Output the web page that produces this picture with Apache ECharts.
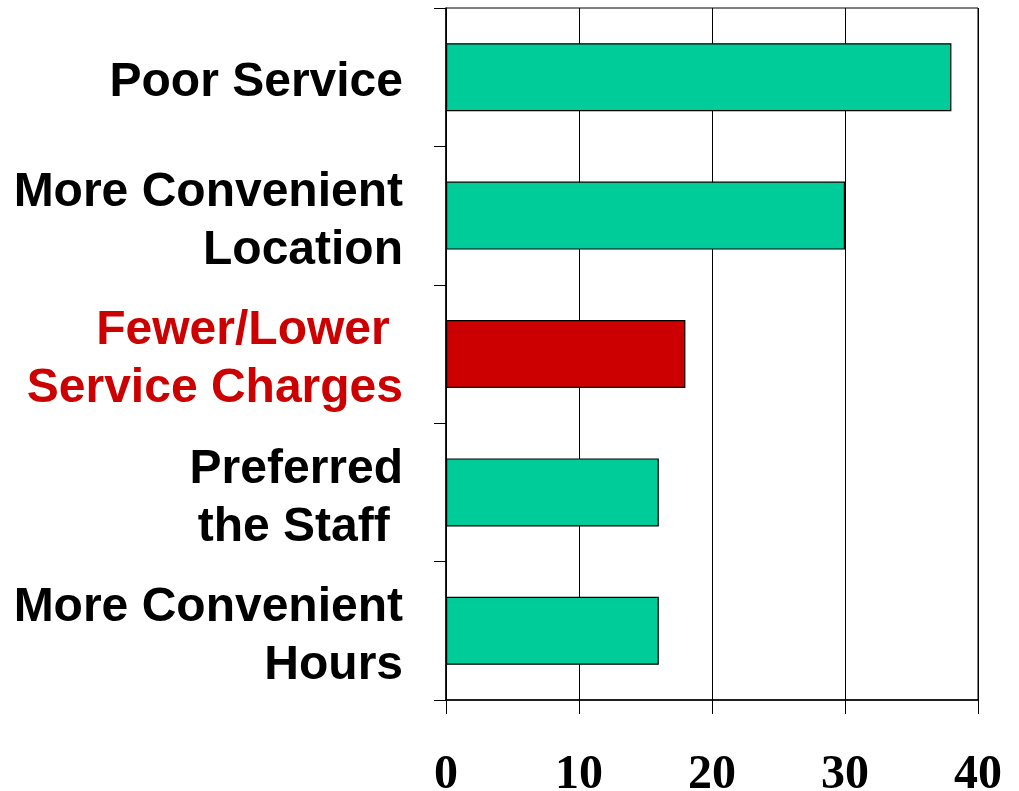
<!DOCTYPE html>
<html>
<head>
<meta charset="utf-8">
<script src="https://cdn.jsdelivr.net/npm/echarts@6/dist/echarts.min.js"></script>
<style>
  html, body { margin: 0; padding: 0; background: #fff; overflow: hidden; }
  #chart { width: 1019px; height: 791px; }
</style>
</head>
<body>
<div id="chart"></div>
<script>
const categories = ['Poor Service', 'More Convenient\nLocation', 'Fewer/Lower \nService Charges', 'Preferred\nthe Staff ', 'More Convenient\nHours']
const values = [38, 30, 18, 16, 16]
const highlighted = 'Fewer/Lower \nService Charges'
const xTicks = [0, 10, 20, 30, 40]

const myChart = echarts.init(document.getElementById('chart'))

const data = values.map((v, i) => ({
    value: v,
    itemStyle: { color: categories[i] === highlighted ? '#CC0000' : '#00CC99' }
}))

const labelFont = { fontFamily: 'Liberation Sans', fontWeight: 'bold', fontSize: 48, lineHeight: 58, align: 'right' }

const option = {
    animation: false,
    grid: {
        left: 446,
        right: 41,
        top: 8,
        bottom: 91,
        outerBoundsMode: 'none',
        containLabel: false,
        show: true,
        borderColor: '#000',
        borderWidth: 1
    },
    xAxis: {
        type: 'value',
        min: xTicks[0],
        max: xTicks[xTicks.length - 1],
        interval: 10,
        axisLine: { show: true, lineStyle: { color: '#000', width: 1.5 } },
        axisTick: { show: true, length: 14, lineStyle: { color: '#000' } },
        splitLine: { show: true, lineStyle: { color: '#000', width: 1 } },
        axisLabel: {
            margin: 52,
            color: '#000',
            fontFamily: 'Liberation Serif',
            fontWeight: 'bold',
            fontSize: 48
        }
    },
    yAxis: {
        type: 'category',
        inverse: true,
        data: categories,
        axisLine: { show: true, lineStyle: { color: '#000', width: 1.5 } },
        axisTick: { show: true, length: 12, lineStyle: { color: '#000' } },
        axisLabel: {
            margin: 43,
            align: 'right',
            padding: [12, 0, 0, 0],
            formatter: (val) => {
                const style = val === highlighted ? 'red' : 'norm'
                return val.split('\n').map(s => '{' + style + '|' + s + '}').join('\n')
            },
            rich: {
                norm: Object.assign({ color: '#000' }, labelFont),
                red: Object.assign({ color: '#CC0000' }, labelFont)
            }
        }
    },
    series: [
        {
            type: 'bar',
            barWidth: 68,
            data: data,
            itemStyle: { borderColor: '#000', borderWidth: 1.2 }
        }
    ]
}
myChart.setOption(option)
</script>
</body>
</html>
